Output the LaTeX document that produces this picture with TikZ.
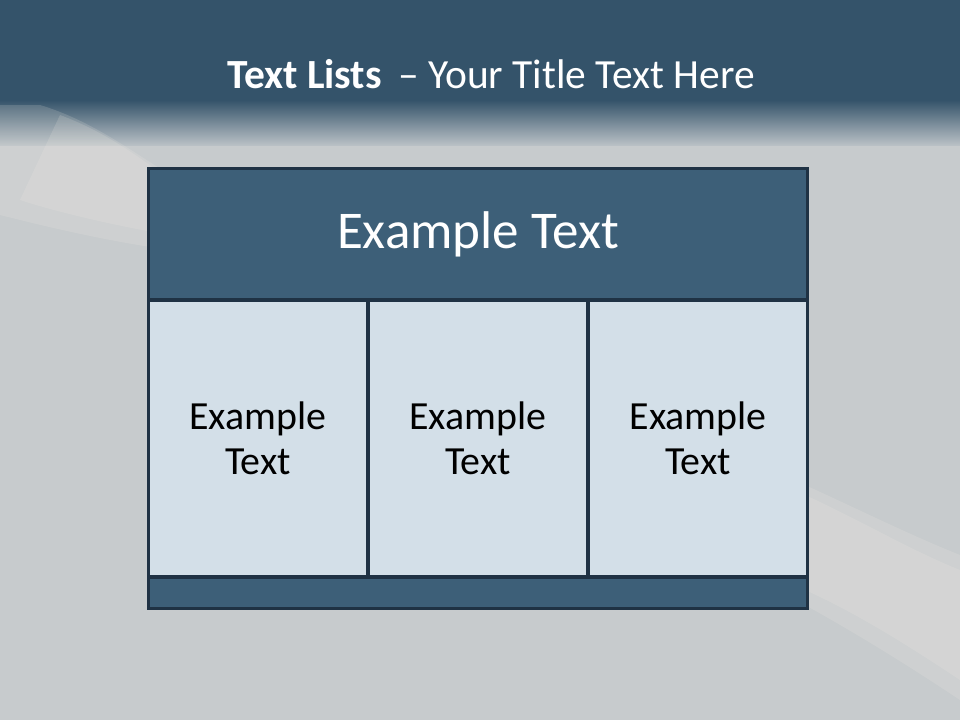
\documentclass[tikz,border=0pt]{standalone}
\usepackage{fontspec}
\setmainfont{Carlito}
\usetikzlibrary{positioning}
\definecolor{topblue}{HTML}{34536A}
\definecolor{fadegray}{HTML}{B9C0C5}
\definecolor{bggray}{HTML}{C7CBCD}
\definecolor{headblue}{HTML}{3D5F78}
\definecolor{cellblue}{HTML}{D3DFE8}
\definecolor{edgeblue}{HTML}{1F3244}
\definecolor{streak}{HTML}{F4EFE6}
\tikzset{
  band/.style    = {draw=edgeblue, line width=0.06cm, fill=headblue,
                    minimum width=13.2cm, inner sep=0pt, outer sep=0pt},
  cellbox/.style = {draw=edgeblue, line width=0.06cm, fill=cellblue,
                    minimum width=4.4cm, minimum height=5.54cm, align=center,
                    inner sep=0pt, outer sep=0pt,
                    font=\fontsize{22.7}{25.5}\selectfont},
  headtext/.style= {text=white, font=\fontsize{30.2}{35}\selectfont},
  glow/.style    = {fill=streak, opacity=0.16}
}
\begin{document}
\begin{tikzpicture}[x=0.02cm, y=-0.02cm]
\useasboundingbox (0,0) rectangle (960,720);
% backdrop
\fill[bggray] (0,0) rectangle (960,720);
\fill[topblue] (0,0) rectangle (960,100);
\shade[top color=topblue, bottom color=fadegray] (0,100) rectangle (960,145);
\fill[glow] (40,105) .. controls (90,120) and (130,150) .. (170,175)
  -- (170,250) .. controls (100,240) and (40,225) .. (0,215) -- (0,105) -- cycle;
\fill[glow] (60,115) .. controls (100,130) and (130,150) .. (170,180)
  -- (170,235) .. controls (110,225) and (50,210) .. (20,200) -- cycle;
\fill[glow] (805,485) .. controls (860,510) and (910,535) .. (960,555)
  -- (960,700) .. controls (900,660) and (850,630) .. (805,605) -- cycle;
\fill[glow] (805,495) .. controls (860,520) and (910,550) .. (960,570)
  -- (960,680) .. controls (900,640) and (850,610) .. (805,590) -- cycle;

\node[text=white, anchor=base] at (491,88) (title)
  {\fontsize{23.6}{28}\selectfont\textbf{Text Lists}\, – Your Title Text Here};

% table
\node[band, minimum height=2.64cm] at (478,234) (head) {};
\node[headtext] at (head.center) (headlbl) {Example Text};
\node[cellbox] at (258,438.5) (cellA) {Example\\Text};
\node[cellbox] at (478,438.5) (cellB) {Example\\Text};
\node[cellbox] at (698,438.5) (cellC) {Example\\Text};
\node[band, minimum height=0.62cm] at (478,592.5) (foot) {};
\end{tikzpicture}
\end{document}
